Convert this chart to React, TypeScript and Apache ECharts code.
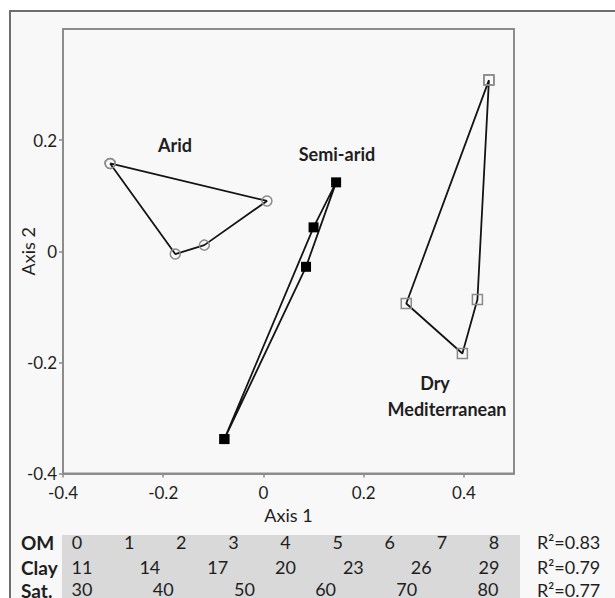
import React, { useEffect, useRef } from "react";
import * as echarts from "echarts";

// Ordination scores (Axis 1, Axis 2), in hull order
const aridPoints = [
  [-0.306, 0.158],
  [0.007, 0.0905],
  [-0.118, 0.011],
  [-0.176, -0.005],
];
const semiAridPoints = [
  [-0.078, -0.338],
  [0.085, -0.028],
  [0.145, 0.124],
  [0.1, 0.043],
];
const dryMedPoints = [
  [0.45, 0.308],
  [0.285, -0.094],
  [0.397, -0.184],
  [0.427, -0.087],
];

const xTicks = [-0.4, -0.2, 0, 0.2, 0.4];
const yTicks = [-0.4, -0.2, 0, 0.2];

const omTicks = ["0", "1", "2", "3", "4", "5", "6", "7", "8"];
const clayTicks = ["11", "14", "17", "20", "23", "26", "29"];
const satTicks = ["30", "40", "50", "60", "70", "80"];
const rowLabels = ["OM", "Clay", "Sat."];
const r2Values = ["0.83", "0.79", "0.77"];

const FONT = "Lato";
const AXIS_GRAY = "#8c8c8c";
const TEXT = "#1e1e1e";

const close = (p: number[][]) => [...p, p[0]];

export default function App() {
  const ref = useRef<HTMLDivElement>(null);

  useEffect(() => {
    if (!ref.current) return;
    const chart = echarts.init(ref.current, undefined, { renderer: "svg" });

    const rowCenters = [542, 567, 590];
    const tableRows = [
      { ticks: omTicks, left: 77, right: 494 },
      { ticks: clayTicks, left: 82, right: 489 },
      { ticks: satTicks, left: 82, right: 488 },
    ];

    const grids: any[] = [
      {
        left: 63,
        top: 29,
        width: 451,
        height: 444.5,
        show: true,
        borderColor: AXIS_GRAY,
        borderWidth: 2,
        backgroundColor: "transparent",
      },
      ...tableRows.map((r, i) => ({
        left: r.left,
        top: rowCenters[i] - 1,
        width: r.right - r.left,
        height: 1,
      })),
    ];

    const xAxes: any[] = [
      {
        type: "value",
        gridIndex: 0,
        min: -0.4,
        max: 0.5,
        name: "Axis 1",
        nameLocation: "middle",
        nameGap: 32,
        nameMoveOverlap: false,
        nameTextStyle: { fontFamily: FONT, fontSize: 18, color: TEXT },
        splitLine: { show: false },
        axisLine: { show: true, onZero: false, lineStyle: { color: AXIS_GRAY, width: 2 } },
        axisTick: {
          show: true,
          customValues: xTicks,
          length: 4,
          lineStyle: { color: AXIS_GRAY, width: 1.5 },
        },
        axisLabel: {
          customValues: xTicks,
          fontFamily: FONT,
          fontSize: 17,
          color: TEXT,
          margin: 10,
        },
      },
      ...tableRows.map((r, i) => ({
        type: "category",
        gridIndex: i + 1,
        data: r.ticks,
        boundaryGap: false,
        axisLine: { show: false },
        axisTick: { show: false },
        splitLine: { show: false },
        axisLabel: {
          interval: 0,
          margin: 0,
          verticalAlign: "middle",
          fontFamily: FONT,
          fontSize: 18,
          color: TEXT,
        },
      })),
    ];

    const yAxes: any[] = [
      {
        type: "value",
        gridIndex: 0,
        min: -0.4,
        max: 0.4,
        name: "Axis 2",
        nameLocation: "middle",
        nameGap: 26,
        nameMoveOverlap: false,
        nameTextStyle: { fontFamily: FONT, fontSize: 18, color: TEXT },
        splitLine: { show: false },
        axisLine: { show: true, onZero: false, lineStyle: { color: AXIS_GRAY, width: 2 } },
        axisTick: {
          show: true,
          customValues: yTicks,
          length: 4,
          lineStyle: { color: AXIS_GRAY, width: 1.5 },
        },
        axisLabel: {
          customValues: yTicks,
          fontFamily: FONT,
          fontSize: 17,
          color: TEXT,
          margin: 6,
        },
      },
      ...tableRows.map((_, i) => ({
        type: "value",
        gridIndex: i + 1,
        show: false,
      })),
    ];

    const hullSeries = (name: string, pts: number[][], symbol: string, filled: boolean) => ({
      name,
      type: "line",
      xAxisIndex: 0,
      yAxisIndex: 0,
      data: close(pts),
      symbol,
      symbolSize: 10,
      showAllSymbol: true,
      lineStyle: { color: "#141414", width: 1.8 },
      itemStyle: filled
        ? { color: "#000", borderColor: "#000", borderWidth: 0 }
        : { color: "rgba(0,0,0,0)", borderColor: "#8a8a8a", borderWidth: 1.5 },
      emphasis: { disabled: true },
      z: 3,
    });

    const labelStyle = (text: string, x: number, y: number) => ({
      type: "text",
      x,
      y,
      style: {
        text,
        fontFamily: FONT,
        fontWeight: "bold",
        fontSize: 18,
        fill: TEXT,
        align: "center",
        verticalAlign: "middle",
      },
      z: 10,
    });

    const graphic: any[] = [
      {
        type: "rect",
        shape: { x: 62, y: 535, width: 458, height: 70 },
        style: { fill: "#d9d9d9" },
        z: -1,
        silent: true,
      },
      ...rowLabels.map((t, i) => ({
        type: "text",
        x: 21,
        y: rowCenters[i],
        style: {
          text: t,
          fontFamily: FONT,
          fontWeight: "bold",
          fontSize: 19,
          fill: TEXT,
          align: "left",
          verticalAlign: "middle",
        },
        z: 10,
      })),
      ...r2Values.map((v, i) => ({
        type: "text",
        x: 537,
        y: rowCenters[i],
        style: {
          text: "R²=" + v,
          fontFamily: FONT,
          fontSize: 18,
          fill: TEXT,
          align: "left",
          verticalAlign: "middle",
        },
        z: 10,
      })),
      labelStyle("Arid", 175, 145),
      labelStyle("Semi-arid", 337, 154),
      labelStyle("Dry", 435, 383),
      labelStyle("Mediterranean", 447, 409),
    ];

    chart.setOption({
      animation: false,
      backgroundColor: "transparent",
      textStyle: { fontFamily: FONT },
      grid: grids,
      xAxis: xAxes,
      yAxis: yAxes,
      series: [
        hullSeries("Arid", aridPoints, "circle", false),
        hullSeries("Semi-arid", semiAridPoints, "rect", true),
        hullSeries("Dry Mediterranean", dryMedPoints, "rect", false),
      ],
      graphic,
    });

    return () => chart.dispose();
  }, []);

  return (
    <div
      style={{
        position: "fixed",
        left: 0,
        top: 0,
        width: 615,
        height: 598,
        background: "#ffffff",
        overflow: "hidden",
      }}
    >
      <div
        style={{
          position: "absolute",
          left: 9,
          top: 10,
          width: 700,
          height: 700,
          border: "2px solid #6e6e6e",
          background: "#f8f8f8",
        }}
      />
      <div
        ref={ref}
        style={{ position: "absolute", left: 0, top: 0, width: 615, height: 598 }}
      />
    </div>
  );
}
